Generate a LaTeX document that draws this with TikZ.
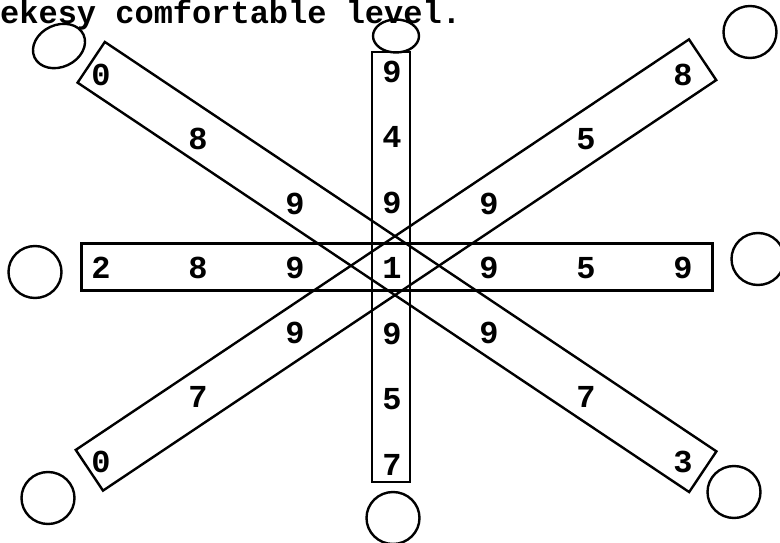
\documentclass[tikz,border=0pt]{standalone}
\usepackage{fontspec}
\newfontfamily\typefont{Liberation Mono}
\usetikzlibrary{shapes.geometric}

\tikzset{
  strip/.style={draw, rectangle, line width=2.4pt, inner sep=0pt},
  digit/.style={font=\typefont\bfseries\fontsize{32}{36}\selectfont, inner sep=0pt},
  ring/.style={draw, ellipse, line width=2.4pt, inner sep=0pt, minimum width=53pt, minimum height=52pt},
}

\begin{document}
\begin{tikzpicture}[x=1pt, y=-1pt]
  \useasboundingbox (0,0) rectangle (780,543);

  % caption line
  \node (caption) [digit, anchor=base west] at (0,24) {ekesy comfortable level.};

  % the four strips
  \node (vstrip) [strip, minimum width=38pt, minimum height=430pt] at (391,267) {};
  \node (hstrip) [strip, minimum width=631pt, minimum height=47pt] at (397,267) {};
  \node (fstrip) [strip, minimum width=736pt, minimum height=49pt, rotate=-33.8] at (397,267) {};
  \node (rstrip) [strip, minimum width=738pt, minimum height=49pt, rotate=33.8] at (396,265) {};

  % digits (the centre 1 is shared)
  \foreach \d [count=\i] in {9,4,9,1,9,5,7}
    \node (v\i) [digit] at (392, {268+65.5*(\i-4)}) {\d};
  \foreach \d [count=\i] in {2,8,9,1,9,5,9}{
    \ifnum\i=4 \else \node (h\i) [digit] at ({392+97*(\i-4)}, 268) {\d}; \fi
  }
  \foreach \d [count=\i] in {0,8,9,1,9,7,3}{
    \ifnum\i=4 \else \node (f\i) [digit] at ({392+97*(\i-4)}, {268+64.5*(\i-4)}) {\d}; \fi
  }
  \foreach \d [count=\i] in {0,7,9,1,9,5,8}{
    \ifnum\i=4 \else \node (r\i) [digit] at ({392+97*(\i-4)}, {268-64.5*(\i-4)}) {\d}; \fi
  }

  % empty rings at the strip ends
  \node (ringTL) [ring, minimum width=54pt, minimum height=42pt, rotate=25] at (59,46) {};
  \node (ringT) [ring, minimum width=46pt, minimum height=33pt] at (396,36) {};
  \node (ringTR) [ring] at (750,32) {};
  \node (ringL) [ring] at (35,272) {};
  \node (ringR) [ring] at (758,259) {};
  \node (ringBL) [ring] at (48,498) {};
  \node (ringBR) [ring] at (734,492) {};
  \node (ringB) [ring] at (393,518) {};
\end{tikzpicture}
\end{document}
